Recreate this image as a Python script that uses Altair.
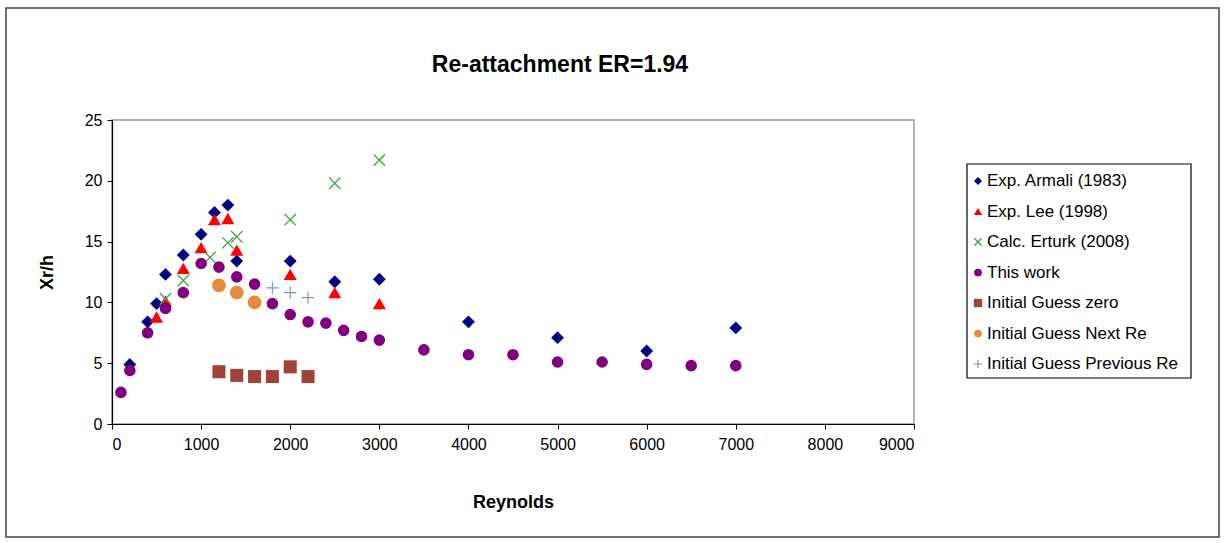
import altair as alt
import pandas as pd

# ---- series data (Reynolds number, reattachment length Xr/h) ----
armali_re = [200, 400, 500, 600, 800, 1000, 1150, 1300, 1400, 2000, 2500, 3000, 4000, 5000, 6000, 7000]
armali_xr = [4.9, 8.4, 9.9, 12.3, 13.9, 15.6, 17.4, 18.0, 13.4, 13.4, 11.7, 11.9, 8.4, 7.1, 6.0, 7.9]

lee_re = [500, 600, 800, 1000, 1150, 1300, 1400, 2000, 2500, 3000]
lee_xr = [8.8, 10.1, 12.8, 14.5, 16.8, 16.9, 14.3, 12.3, 10.8, 9.9]

erturk_re = [600, 800, 1100, 1300, 1400, 2000, 2500, 3000]
erturk_xr = [10.3, 11.8, 13.7, 14.9, 15.4, 16.8, 19.8, 21.7]

work_re = [100, 200, 400, 600, 800, 1000, 1200, 1400, 1600, 1800, 2000, 2200, 2400, 2600,
           2800, 3000, 3500, 4000, 4500, 5000, 5500, 6000, 6500, 7000]
work_xr = [2.6, 4.4, 7.5, 9.5, 10.8, 13.2, 12.9, 12.1, 11.5, 9.9, 9.0, 8.4, 8.3, 7.7,
           7.2, 6.9, 6.1, 5.7, 5.7, 5.1, 5.1, 4.9, 4.8, 4.8]

zero_re = [1200, 1400, 1600, 1800, 2000, 2200]
zero_xr = [4.3, 4.0, 3.9, 3.9, 4.7, 3.9]

next_re = [1200, 1400, 1600]
next_xr = [11.4, 10.8, 10.0]

prev_re = [1800, 2000, 2200]
prev_xr = [11.2, 10.8, 10.4]

series_names = ["Exp. Armali (1983)", "Exp. Lee (1998)", "Calc. Erturk (2008)", "This work",
                "Initial Guess zero", "Initial Guess Next Re", "Initial Guess Previous Re"]
x_ticks = [0, 1000, 2000, 3000, 4000, 5000, 6000, 7000, 8000, 9000]
y_ticks = [0, 5, 10, 15, 20, 25]

X_PATH = "M-1,-1L1,1M-1,1L1,-1"
PLUS_PATH = "M-1,0L1,0M0,-1L0,1"

# marker style per series: shape, colour, filled, plot size, legend size, stroke width
styles = [
    ("diamond", "#000080", True, 165, 65, 1),
    ("triangle-up", "#ff0000", True, 170, 70, 1),
    (X_PATH, "#43a047", False, 130, 55, 1.3),
    ("circle", "#800080", True, 135, 60, 1),
    ("square", "#a0413c", True, 170, 70, 1),
    ("circle", "#e68a3c", True, 190, 60, 1),
    (PLUS_PATH, "#7a96cc", False, 150, 75, 1.2),
]
series_data = [(armali_re, armali_xr), (lee_re, lee_xr), (erturk_re, erturk_xr), (work_re, work_xr),
               (zero_re, zero_xr), (next_re, next_xr), (prev_re, prev_xr)]

W, H = 802, 304
FONT = "Liberation Sans"

x_enc = alt.X("Re:Q", scale=alt.Scale(domain=[0, 9000], nice=False),
              axis=alt.Axis(values=x_ticks, title="Reynolds", format="d"))
y_enc = alt.Y("Xr:Q", scale=alt.Scale(domain=[0, 25], nice=False),
              axis=alt.Axis(values=y_ticks, title="Xr/h", format="d"))

# outer chart frame (outline only, so the axes underneath stay visible)
frame = alt.Chart(pd.DataFrame({"k": [0]})).mark_rect(
    fillOpacity=0, stroke="#444444", strokeWidth=1.5
).encode(x=alt.value(-106), x2=alt.value(1107), y=alt.value(-112), y2=alt.value(417))

layers = [frame]

for (re_vals, xr_vals), (shape, color, filled, size, _, sw), name in zip(series_data, styles, series_names):
    df = pd.DataFrame({"Re": re_vals, "Xr": xr_vals, "series": name})
    layers.append(
        alt.Chart(df).mark_point(shape=shape, filled=filled, color=color, size=size,
                                 opacity=1, strokeWidth=sw)
        .encode(x=x_enc, y=y_enc)
    )

# chart title
title = alt.Chart(pd.DataFrame({"t": ["Re-attachment ER=1.94"]})).mark_text(
    font=FONT, fontSize=23, fontWeight="bold", color="black", align="center", baseline="middle"
).encode(text="t:N", x=alt.value(448), y=alt.value(-55))
layers.append(title)

# legend box with one row per series
LX, LY, ROW = 855, 44, 30.5
legend_box = alt.Chart(pd.DataFrame({"k": [0]})).mark_rect(
    fill="white", stroke="black", strokeWidth=1.2
).encode(x=alt.value(LX), x2=alt.value(LX + 224), y=alt.value(LY), y2=alt.value(LY + 214))
layers.append(legend_box)

for i, (name, (shape, color, filled, _, lsize, sw)) in enumerate(zip(series_names, styles)):
    row_y = LY + 17 + i * ROW
    ldf = pd.DataFrame({"label": [name]})
    layers.append(
        alt.Chart(ldf).mark_point(shape=shape, filled=filled, color=color, size=lsize,
                                  opacity=1, strokeWidth=sw)
        .encode(x=alt.value(LX + 11), y=alt.value(row_y))
    )
    layers.append(
        alt.Chart(ldf).mark_text(font=FONT, fontSize=17, color="black", align="left",
                                 baseline="middle")
        .encode(text="label:N", x=alt.value(LX + 20), y=alt.value(row_y))
    )

chart = alt.layer(*layers).properties(
    width=W, height=H,
    autosize=alt.AutoSizeParams(type="none"),
    padding={"left": 112, "top": 120, "right": 1225 - 112 - W, "bottom": 543 - 120 - H},
    background="white",
).configure_view(
    stroke="#999999", strokeWidth=1.5
).configure_axis(
    grid=False, domainColor="black", domainWidth=1.2, tickColor="black", tickSize=5,
    labelFont=FONT, labelFontSize=16, labelColor="black",
    titleFont=FONT, titleFontSize=18, titleFontWeight="bold", titleColor="black",
).configure_axisX(
    labelPadding=7, titlePadding=41
).configure_axisY(
    labelPadding=5, titlePadding=28
)

chart.save("out.html", embed_options={"renderer": "svg", "actions": False})
